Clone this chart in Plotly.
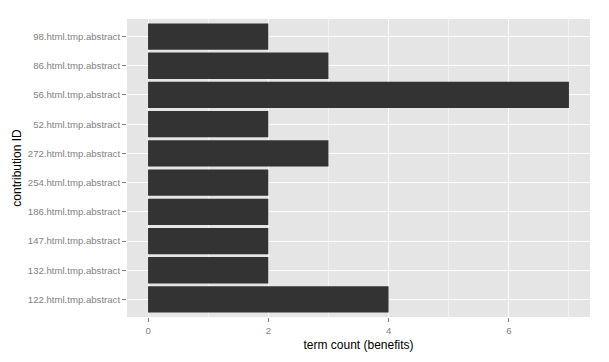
import plotly.graph_objects as go

categories = ["122.html.tmp.abstract", "132.html.tmp.abstract", "147.html.tmp.abstract",
              "186.html.tmp.abstract", "254.html.tmp.abstract", "272.html.tmp.abstract",
              "52.html.tmp.abstract", "56.html.tmp.abstract", "86.html.tmp.abstract",
              "98.html.tmp.abstract"]
counts = [4, 2, 2, 2, 2, 3, 2, 7, 3, 2]
x_ticks = [0, 2, 4, 6]

fig = go.Figure(go.Bar(
    x=counts, y=categories, orientation="h",
    marker=dict(color="#333333", line=dict(width=0)),
    width=0.9,
))

font_family = "Liberation Sans, Arial, sans-serif"
fig.update_layout(
    width=609, height=362,
    margin=dict(l=127, r=19, t=19, b=42),
    paper_bgcolor="white",
    plot_bgcolor="#E5E5E5",
    showlegend=False,
    font=dict(family=font_family, color="black"),
    xaxis=dict(
        range=[-0.35, 7.35],
        tickmode="array", tickvals=x_ticks, ticktext=[str(v) for v in x_ticks],
        showgrid=True, gridcolor="white", gridwidth=1,
        minor=dict(dtick=1, tick0=1, showgrid=True, gridcolor="#F2F2F2", gridwidth=0.6, ticks=""),
        ticks="outside", ticklen=4, tickcolor="#7F7F7F", tickwidth=1,
        tickfont=dict(size=9.6, color="#7F7F7F", family=font_family),
        zeroline=False, showline=False,
        title=dict(text="term count (benefits)", font=dict(size=12, color="black"), standoff=6),
        fixedrange=True,
    ),
    yaxis=dict(
        type="category",
        categoryorder="array", categoryarray=categories,
        range=[-0.6, 9.6],
        showgrid=True, gridcolor="white", gridwidth=1,
        ticks="outside", ticklen=4, tickcolor="#7F7F7F", tickwidth=1,
        tickfont=dict(size=9.6, color="#7F7F7F", family=font_family),
        zeroline=False, showline=False,
        title=dict(text="contribution ID", font=dict(size=12, color="black"), standoff=3),
        fixedrange=True,
    ),
)

fig.write_html("out.html")
